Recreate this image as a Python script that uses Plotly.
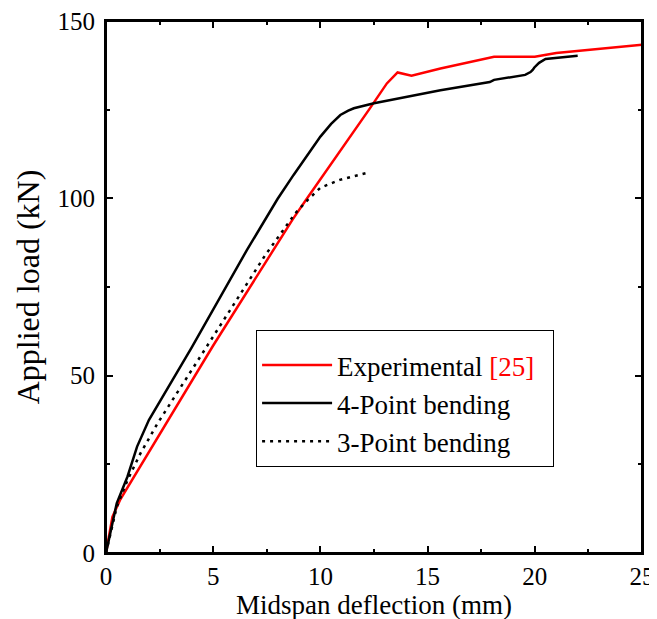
import plotly.graph_objects as go

# Experimental [25]
exp_x = [0, 0.3, 0.65, 2.9, 5.0, 8.7, 9.3, 12.3, 13.1, 13.6, 14.25, 15.6, 18.1, 20.0, 21.0, 25.0]
exp_y = [0, 10.2, 14.9, 37.5, 58.5, 94.0, 99.3, 125.3, 132.4, 135.5, 134.6, 136.6, 139.9, 139.9, 141.0, 143.3]

# 4-Point bending
fp_x = [0, 0.5, 1.0, 1.45, 2.0, 4.0, 6.57, 8.0, 8.75, 9.5, 10.0, 10.5, 10.93, 11.3, 11.56, 12.5,
        15.6, 17.9, 18.1, 19.55, 19.8, 19.9, 19.98, 20.2, 20.5, 22.0]
fp_y = [0, 14.0, 21.5, 30.0, 37.5, 58.0, 85.4, 99.8, 106.6, 113.0, 117.4, 121.0, 123.5, 124.7, 125.4, 126.8,
        130.5, 132.8, 133.4, 134.8, 135.6, 136.2, 136.9, 138.2, 139.3, 140.2]

# 3-Point bending
tp_x = [0, 0.5, 1.0, 1.6, 2.4, 5.0, 7.43, 8.83, 9.4, 10.0, 10.9, 12.2]
tp_y = [0, 13.0, 20.5, 28.0, 36.5, 61.0, 84.0, 95.8, 99.5, 103.0, 105.2, 107.2]

FONT = "Liberation Serif"

fig = go.Figure()
fig.add_trace(go.Scatter(x=exp_x, y=exp_y, mode="lines",
                         name='Experimental <span style="color:#ff0000">[25]</span>\u00a0\u00a0',
                         line=dict(color="#ff0000", width=2.5)))
fig.add_trace(go.Scatter(x=fp_x, y=fp_y, mode="lines", name="4-Point bending",
                         line=dict(color="#000000", width=2.5)))
fig.add_trace(go.Scatter(x=tp_x, y=tp_y, mode="lines", name="3-Point bending",
                         line=dict(color="#000000", width=2.5, dash="3px,5px")))

axis_common = dict(showline=True, linewidth=2, linecolor="black", mirror="ticks",
                   ticks="inside", ticklen=7, tickwidth=1.5, tickcolor="black",
                   showgrid=False, zeroline=False, automargin=False,
                   ticklabeloverflow="allow",
                   tickfont=dict(family=FONT, size=25, color="black"))

fig.update_xaxes(range=[0, 25], dtick=5, tick0=0,
                 minor=dict(ticks="inside", dtick=2.5, ticklen=4, tickwidth=1.5, tickcolor="black"),
                 title=dict(text="Midspan deflection (mm)", font=dict(family=FONT, size=27, color="black"),
                            standoff=0),
                 **axis_common)
fig.update_yaxes(range=[0, 150], dtick=50, tick0=0,
                 minor=dict(ticks="inside", dtick=25, ticklen=4, tickwidth=1.5, tickcolor="black"),
                 ticklabelstandoff=4,
                 title=dict(text="Applied load (kN)", font=dict(family=FONT, size=32, color="black"),
                            standoff=8),
                 **axis_common)

# plot frame (box around the axes area)
fig.add_shape(type="rect", xref="x domain", yref="y domain", x0=0, y0=0, x1=1, y1=1,
              line=dict(color="black", width=2), layer="above")

fig.update_layout(
    width=657, height=619,
    margin=dict(l=98, r=23, t=13, b=74),
    paper_bgcolor="white", plot_bgcolor="white",
    showlegend=True,
    legend=dict(x=0.28, y=0.42, xanchor="left", yanchor="top",
                bordercolor="black", borderwidth=1, bgcolor="white",
                font=dict(family=FONT, size=27, color="black"),
                itemwidth=70,
                title=dict(text=" ", font=dict(size=8)),
                tracegroupgap=0),
)

fig.write_html("out.html")
